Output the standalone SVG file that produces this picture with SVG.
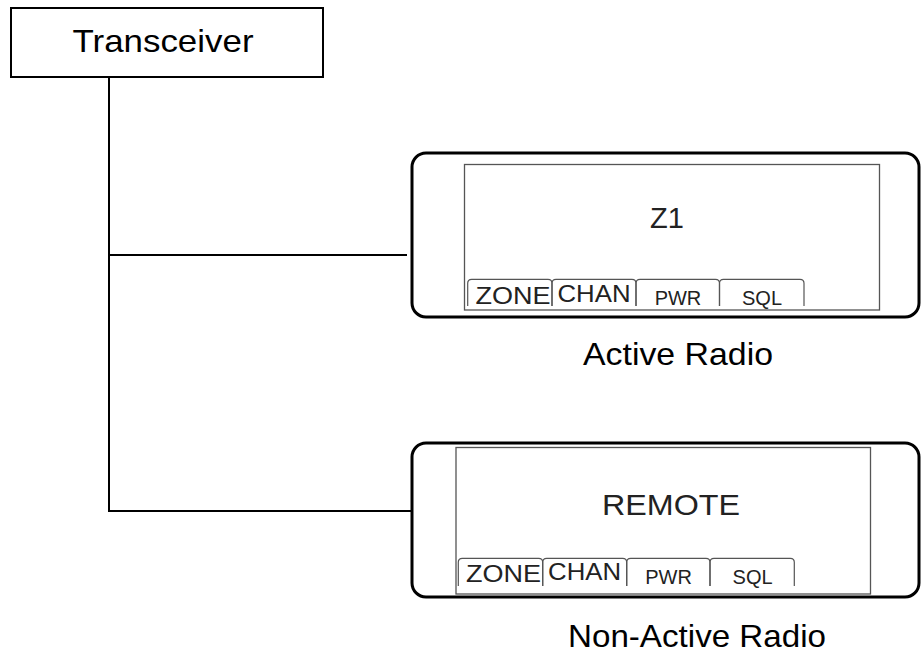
<svg xmlns="http://www.w3.org/2000/svg" width="921" height="650" viewBox="0 0 921 650">
<style>
.t{font-family:"Liberation Sans",Arial,sans-serif;fill:#000;text-anchor:middle}
.lcd{font-family:"Liberation Sans",Arial,sans-serif;fill:#222;text-anchor:middle}
.box{fill:#fff;stroke:#000;stroke-width:2}
.radio{fill:#fff;stroke:#000;stroke-width:3}
.screen{fill:#fff;stroke:#555;stroke-width:1.3}
.tab{fill:none;stroke:#555;stroke-width:1.2}
.conn{fill:none;stroke:#000;stroke-width:2}
</style>
<rect width="921" height="650" fill="#fff"/>
<g id="connectors">
<path class="conn" d="M109,78 V511 H415"/>
<path class="conn" d="M109,255 H407"/>
</g>
<g id="transceiver">
<rect class="box" x="11" y="8" width="312" height="69"/>
<text class="t" x="163" y="52" font-size="32" textLength="181" lengthAdjust="spacingAndGlyphs">Transceiver</text>
</g>
<g id="active-radio">
<rect class="radio" x="412" y="153" width="507" height="164" rx="14"/>
<rect class="screen" x="464.5" y="164.5" width="415" height="145.5"/>
<text class="lcd" x="667" y="228" font-size="29">Z1</text>
<path class="tab" d="M467.7,306 V283.3 Q467.7,279.3 471.7,279.3 H548 Q552,279.3 552,283.3 V306"/>
<path class="tab" d="M552,306 V283.3 Q552,279.3 556,279.3 H632 Q636,279.3 636,283.3 V306"/>
<path class="tab" d="M636,306 V283.3 Q636,279.3 640,279.3 H715.5 Q719.5,279.3 719.5,283.3 V306"/>
<path class="tab" d="M719.5,306 V283.3 Q719.5,279.3 723.5,279.3 H800 Q804,279.3 804,283.3 V306"/>
<text class="lcd" x="513" y="303.5" font-size="24" textLength="75" lengthAdjust="spacingAndGlyphs">ZONE</text>
<text class="lcd" x="594" y="301.5" font-size="24" textLength="73" lengthAdjust="spacingAndGlyphs">CHAN</text>
<text class="lcd" x="678" y="304.5" font-size="20">PWR</text>
<text class="lcd" x="762" y="304.5" font-size="20">SQL</text>
<text class="t" x="678" y="365" font-size="32" textLength="190" lengthAdjust="spacingAndGlyphs">Active Radio</text>
</g>
<g id="non-active-radio">
<rect class="radio" x="412" y="443" width="507" height="154" rx="14"/>
<rect class="screen" x="456" y="447.5" width="414.5" height="146.5"/>
<text class="lcd" x="671" y="515" font-size="30" textLength="138" lengthAdjust="spacingAndGlyphs">REMOTE</text>
<path class="tab" d="M458.3,586 V562.3 Q458.3,558.3 462.3,558.3 H538.7 Q542.7,558.3 542.7,562.3 V586"/>
<path class="tab" d="M542.7,586 V562.3 Q542.7,558.3 546.7,558.3 H622.7 Q626.7,558.3 626.7,562.3 V586"/>
<path class="tab" d="M626.7,586 V562.3 Q626.7,558.3 630.7,558.3 H706 Q710,558.3 710,562.3 V586"/>
<path class="tab" d="M710,586 V562.3 Q710,558.3 714,558.3 H790.3 Q794.3,558.3 794.3,562.3 V586"/>
<text class="lcd" x="503.6" y="582" font-size="24" textLength="75" lengthAdjust="spacingAndGlyphs">ZONE</text>
<text class="lcd" x="584.6" y="580" font-size="24" textLength="73" lengthAdjust="spacingAndGlyphs">CHAN</text>
<text class="lcd" x="668.6" y="583.5" font-size="20">PWR</text>
<text class="lcd" x="752.6" y="583.5" font-size="20">SQL</text>
<text class="t" x="697" y="647" font-size="32" textLength="258" lengthAdjust="spacingAndGlyphs">Non-Active Radio</text>
</g>
</svg>
